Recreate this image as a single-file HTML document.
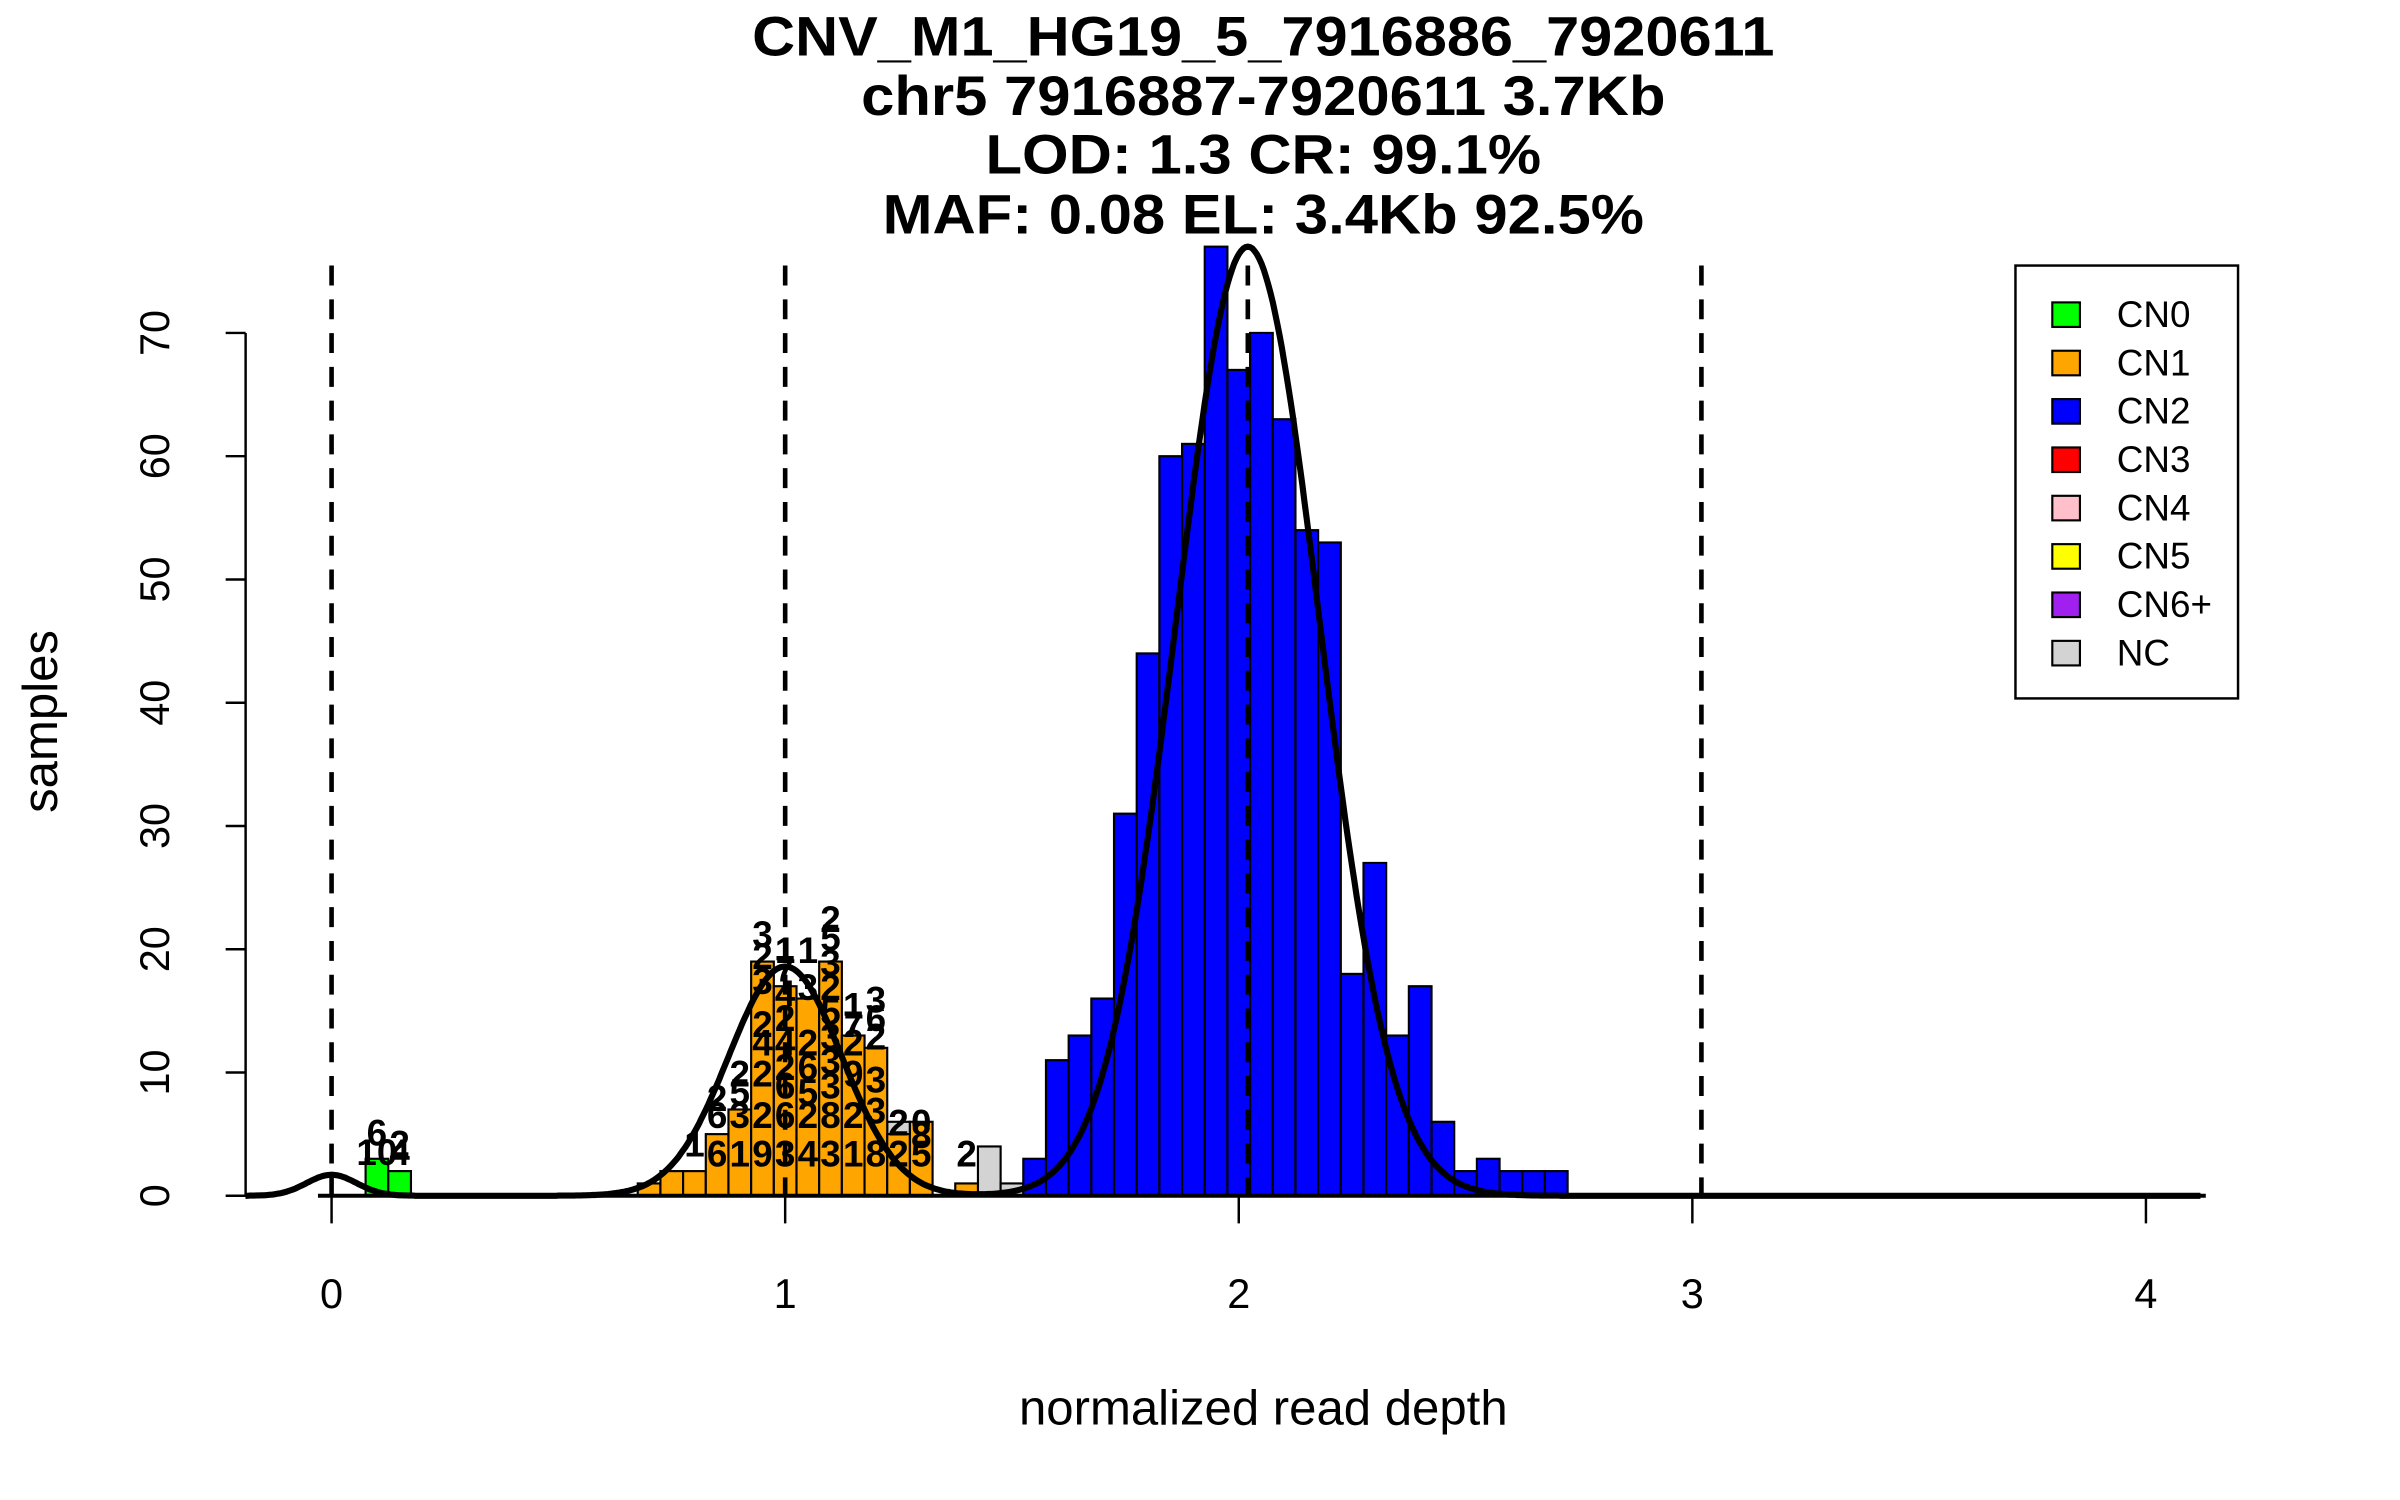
<!DOCTYPE html>
<html><head><meta charset="utf-8"><style>
html,body{margin:0;padding:0;background:#fff;}
svg{display:block;font-family:"Liberation Sans",Arial,sans-serif;}
</style></head><body>
<svg id="chart" width="2400" height="1500" viewBox="0 0 1563.5 977.2" xmlns="http://www.w3.org/2000/svg">
<rect x="0" y="0" width="1563.5" height="977.2" fill="#fff"/>
<g font-weight="bold" font-size="36" text-anchor="middle">
<text x="823" y="36" textLength="666" lengthAdjust="spacingAndGlyphs">CNV_M1_HG19_5_7916886_7920611</text>
<text x="823" y="75" textLength="524" lengthAdjust="spacingAndGlyphs">chr5 7916887-7920611 3.7Kb</text>
<text x="823" y="113" textLength="362" lengthAdjust="spacingAndGlyphs">LOD: 1.3 CR: 99.1%</text>
<text x="823" y="152" textLength="496" lengthAdjust="spacingAndGlyphs">MAF: 0.08 EL: 3.4Kb 92.5%</text>
</g>
<g id="bars"></g>
<g id="labels" font-weight="bold" font-size="24" text-anchor="middle"></g>
<g id="guides"></g>
<g id="axes"></g>
<path id="density" fill="none" stroke="#000" stroke-width="4"/>
<text x="823" y="928" font-size="32" text-anchor="middle">normalized read depth</text>
<text x="0" y="0" font-size="32" text-anchor="middle" transform="translate(37,470) rotate(-90)">samples</text>
<g id="legend"></g>
</svg>
<script>
const greenStart = 0.075;
const greenCounts = [3, 2];
const orangeStart = 0.675;
const orangeCounts = [1, 2, 2, 5, 7, 19, 17, 16, 19, 13, 12, 5, 6, 0, 1];
const blueStart = 1.525;
const blueCounts = [3, 11, 13, 16, 31, 44, 60, 61, 77, 67, 70, 63, 54, 53, 18, 27, 13, 17, 6, 2, 3, 2, 2, 2];
const greyStarts = [1.225, 1.425, 1.475];
const greyCounts = [6, 4, 1];
const binWidth = 0.05;
const xTicks = [0, 1, 2, 3, 4];
const yTicks = [0, 10, 20, 30, 40, 50, 60, 70];
const guideLines = [0, 1.0, 2.02, 3.02];
const compMeans = [0, 1.0, 2.02];
const compSds = [0.055, 0.125, 0.158];
const compPeaks = [1.7, 18.6, 77];
const labelX = [0.10,0.10,0.15,0.15, 0.80, 0.85,0.85,0.85, 0.90,0.90,0.90,0.90,
 0.95,0.95,0.95,0.95,0.95,0.95,0.95,0.95, 1.00,1.00,1.00,1.00,1.00,1.00,1.00,1.00,1.00,
 1.05,1.05,1.05,1.05,1.05,1.05,1.05, 1.10,1.10,1.10,1.10,1.10,1.10,1.10,1.10,1.10,1.10,
 1.15,1.15,1.15,1.15,1.15,1.15, 1.20,1.20,1.20,1.20,1.20,1.20, 1.25,1.25, 1.30,1.30,1.30, 1.40];
const labelY = [3.6,5.2,3.6,4.3, 4.3, 3.5,6.6,8.0, 3.5,6.6,8.5,10.0,
 3.5,6.6,10.0,12.5,14.0,17.5,19.5,21.3, 3.5,6.6,9.0,10.5,12.5,14.5,16.5,18.5,20.0,
 3.5,6.6,8.5,10.5,12.5,17.0,20.0, 3.5,6.6,9.0,11.0,13.0,15.0,17.0,19.0,21.0,22.5,
 3.5,6.6,10.0,12.5,14.0,15.5, 3.5,7.0,9.5,13.0,14.5,16.0, 3.5,6.0, 3.5,5.0,6.0, 3.5];
const labelText = ["10","6","4","2", "1", "6","6","2", "1","3","5","2",
 "9","2","2","4","2","3","2","3", "3","6","6","2","4","2","4","7","1",
 "4","2","5","6","2","3","1", "3","8","3","3","3","5","2","3","5","2",
 "1","2","9","2","7","1", "8","3","3","2","6","3", "2","2", "5","8","0", "2"];
const legendNames = ["CN0","CN1","CN2","CN3","CN4","CN5","CN6+","NC"];
const legendColors = ["#00ff00","#ffa500","#0000ff","#ff0000","#ffc0cb","#ffff00","#a020f0","#d3d3d3"];

const NS = "http://www.w3.org/2000/svg";
const X0 = 216, XU = 295.5, Y0 = 779, YU = 8.03;
function sx(v){ return X0 + v * XU; }
function sy(v){ return Y0 - v * YU; }
function mk(tag, attrs, parent){
  const el = document.createElementNS(NS, tag);
  for (const k in attrs) el.setAttribute(k, attrs[k]);
  parent.appendChild(el); return el;
}
const bars = document.getElementById("bars");
function drawBars(starts, counts, color, name){
  counts.forEach((c, i) => {
    if (c <= 0) return;
    const s = Array.isArray(starts) ? starts[i] : starts + i * binWidth;
    const r = mk("rect", {x: sx(s), y: sy(c), width: binWidth * XU, height: c * YU,
      fill: color, stroke: "#000", "stroke-width": 1.4}, bars);
    
    
  });
}
drawBars(greyStarts, greyCounts, "#d3d3d3", "nc");
drawBars(greenStart, greenCounts, "#00ff00", "cn0");
drawBars(orangeStart, orangeCounts, "#ffa500", "cn1");
drawBars(blueStart, blueCounts, "#0000ff", "cn2");

const labels = document.getElementById("labels");
labelText.forEach((t, i) => {
  const el = mk("text", {x: sx(labelX[i]), y: sy(labelY[i]) + 9}, labels);
  el.textContent = t;
  
  
});

const guides = document.getElementById("guides");
guideLines.forEach(g => {
  const l = mk("line", {x1: sx(g), x2: sx(g), y1: 173, y2: 779, stroke: "#000",
    "stroke-width": 3, "stroke-dasharray": "13 9"}, guides);
  
  
});

const axes = document.getElementById("axes");
const base = mk("line", {x1: sx(-0.03), x2: 1437, y1: Y0, y2: Y0, stroke: "#000", "stroke-width": 2.6}, axes);


xTicks.forEach(t => {
  const tk = mk("line", {x1: sx(t), x2: sx(t), y1: Y0, y2: Y0 + 18, stroke: "#000", "stroke-width": 1.6}, axes);
  
  
  const tl = mk("text", {x: sx(t), y: 852, "font-size": 27, "text-anchor": "middle"}, axes);
  tl.textContent = t;
  
  
});
const ya = mk("line", {x1: 160, x2: 160, y1: sy(0), y2: sy(70), stroke: "#000", "stroke-width": 1.6}, axes);


yTicks.forEach(t => {
  const tk = mk("line", {x1: 147, x2: 160, y1: sy(t), y2: sy(t), stroke: "#000", "stroke-width": 1.6}, axes);
  
  
  const tl = mk("text", {x: 0, y: 0, "font-size": 27, "text-anchor": "middle",
    transform: "translate(110," + sy(t) + ") rotate(-90)"}, axes);
  tl.textContent = t;
  
  
});

let d = "";
for (let v = -0.19; v <= 4.12; v += 0.005) {
  let y = 0;
  for (let k = 0; k < compMeans.length; k++) {
    const z = (v - compMeans[k]) / compSds[k];
    y += compPeaks[k] * Math.exp(-0.5 * z * z);
  }
  d += (d ? "L" : "M") + sx(v).toFixed(1) + "," + sy(y).toFixed(1);
}
document.getElementById("density").setAttribute("d", d);

const legend = document.getElementById("legend");
const lb = mk("rect", {x: 1313, y: 173, width: 145, height: 282, fill: "#fff", stroke: "#000", "stroke-width": 1.6}, legend);


legendNames.forEach((n, i) => {
  const yy = 205 + i * 31.5;
  const sw = mk("rect", {x: 1337, y: yy - 8, width: 18, height: 16, fill: legendColors[i], stroke: "#000", "stroke-width": 1.4}, legend);
  
  
  const tx = mk("text", {x: 1379, y: yy + 8, "font-size": 24}, legend);
  tx.textContent = n;
  
  
});
</script>
</body></html>
